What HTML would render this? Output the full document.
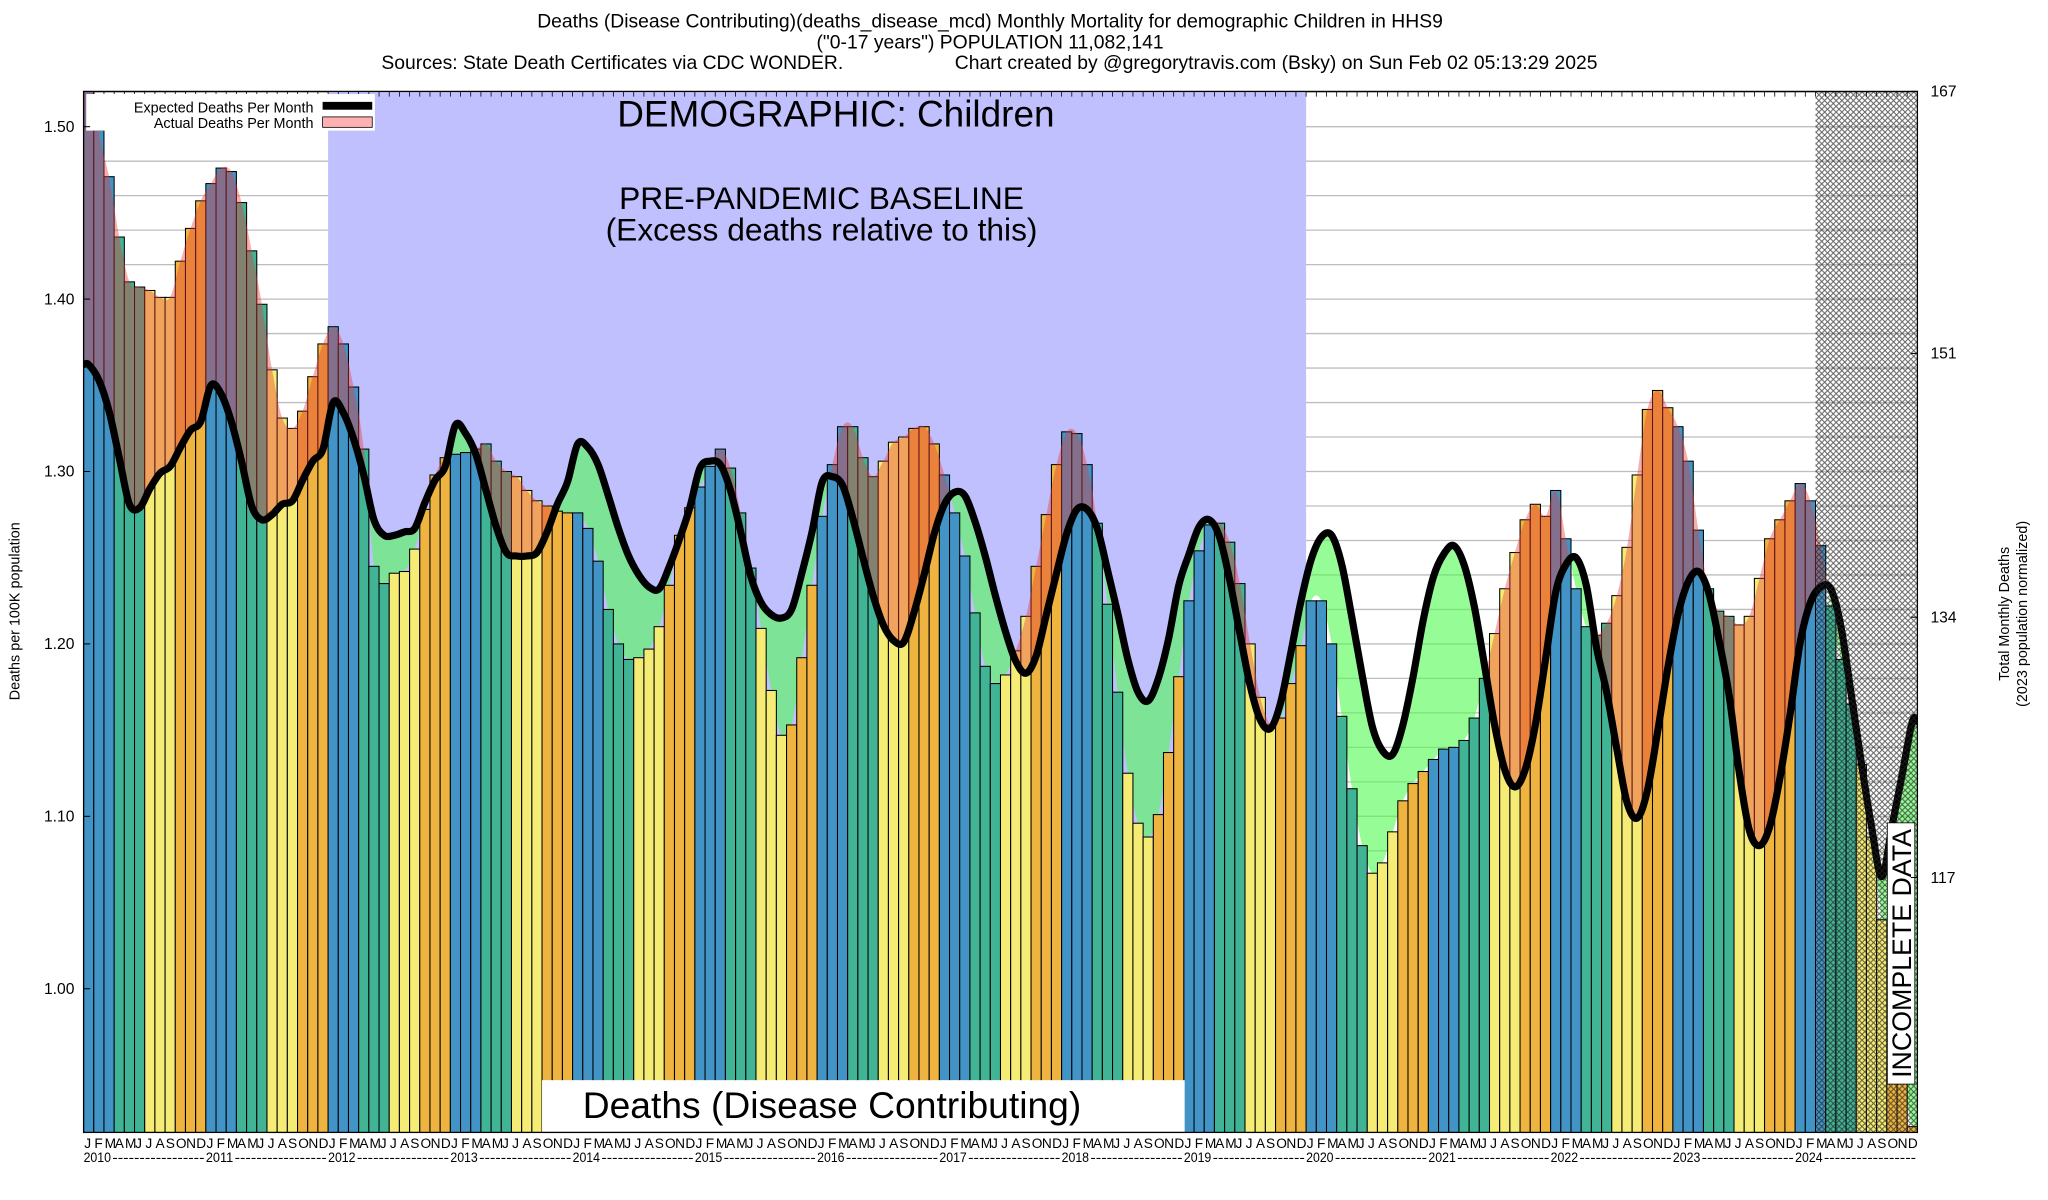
<!DOCTYPE html>
<html><head><meta charset="utf-8"><title>Deaths (Disease Contributing) Monthly Mortality - Children HHS9</title>
<style>html,body{margin:0;padding:0;background:#fff}svg{display:block;font-family:"Liberation Sans",Arial,sans-serif}</style>
</head><body>
<svg id="chart" xmlns="http://www.w3.org/2000/svg" width="2048" height="1200" viewBox="0 0 1568 918.75" preserveAspectRatio="none">
<defs>
<clipPath id="plotClip"><rect x="64" y="70" width="1404" height="797"/></clipPath>
<clipPath id="aboveExp"><path id="aboveExpPath"/></clipPath>
<clipPath id="aboveAct"><path id="aboveActPath"/></clipPath>
<pattern id="hatch" width="4.4" height="4.4" patternUnits="userSpaceOnUse">
<path d="M0,0 L4.4,4.4 M4.4,0 L0,4.4" stroke="#222" stroke-width="0.8" opacity="0.7"/>
</pattern>
</defs>
<rect x="0" y="0" width="1568" height="918.75" fill="#fff"/>
<g font-size="14.8" fill="#000">
<text x="758" y="21" text-anchor="middle">Deaths (Disease Contributing)(deaths_disease_mcd) Monthly Mortality for demographic Children in HHS9</text>
<text x="758" y="37" text-anchor="middle">("0-17 years") POPULATION 11,082,141</text>
<text x="292" y="53">Sources: State Death Certificates via CDC WONDER.</text>
<text x="731" y="53">Chart created by @gregorytravis.com (Bsky) on Sun Feb 02 05:13:29 2025</text>
</g>
<g id="plot" clip-path="url(#plotClip)"></g>
<g id="overlay"></g>
<rect x="64" y="70" width="1404" height="797" fill="none" stroke="#000" stroke-width="1"/>
<g id="axes"></g>
<text transform="translate(15,468) rotate(-90)" text-anchor="middle" font-size="11">Deaths per 100K population</text>
<text transform="translate(1538,470) rotate(-90)" text-anchor="middle" font-size="11">Total Monthly Deaths</text>
<text transform="translate(1552,470) rotate(-90)" text-anchor="middle" font-size="11">(2023 population normalized)</text>
</svg>
<script>
const years = [2010,2011,2012,2013,2014,2015,2016,2017,2018,2019,2020,2021,2022,2023,2024];
const monthLetters = ['J','F','M','A','M','J','J','A','S','O','N','D'];
const actual = [
1.56,1.498,1.471,1.436,1.410,1.407,1.405,1.401,1.401,1.422,1.441,1.457,
1.467,1.476,1.474,1.456,1.428,1.397,1.359,1.331,1.325,1.335,1.355,1.374,
1.384,1.374,1.349,1.313,1.245,1.235,1.241,1.242,1.255,1.278,1.298,1.308,
1.310,1.311,1.313,1.316,1.306,1.300,1.297,1.289,1.283,1.280,1.277,1.276,
1.276,1.267,1.248,1.220,1.200,1.191,1.192,1.197,1.210,1.234,1.263,1.279,
1.291,1.303,1.313,1.302,1.276,1.244,1.209,1.173,1.147,1.153,1.192,1.234,
1.274,1.304,1.326,1.326,1.308,1.297,1.306,1.317,1.320,1.325,1.326,1.316,
1.298,1.276,1.251,1.218,1.187,1.177,1.182,1.196,1.216,1.245,1.275,1.304,
1.323,1.322,1.304,1.270,1.223,1.172,1.125,1.096,1.088,1.101,1.137,1.181,
1.225,1.254,1.269,1.270,1.259,1.235,1.200,1.169,1.153,1.157,1.177,1.199,
1.225,1.225,1.200,1.158,1.116,1.083,1.067,1.073,1.091,1.109,1.119,1.126,
1.133,1.139,1.140,1.144,1.157,1.180,1.206,1.232,1.253,1.272,1.281,1.274,
1.289,1.261,1.232,1.210,1.205,1.212,1.228,1.256,1.298,1.336,1.347,1.337,
1.326,1.306,1.266,1.232,1.219,1.216,1.211,1.216,1.238,1.261,1.272,1.283,
1.293,1.283,1.257,1.222,1.191,1.165,1.130,1.088,1.040,0.955,0.945,0.920];
const expected = [
1.362,1.353,1.335,1.308,1.281,1.279,1.290,1.299,1.303,1.314,1.324,1.329,
1.350,1.345,1.329,1.306,1.280,1.272,1.275,1.281,1.283,1.295,1.306,1.313,
1.340,1.334,1.319,1.298,1.272,1.263,1.263,1.265,1.267,1.282,1.295,1.303,
1.327,1.322,1.310,1.289,1.268,1.253,1.251,1.251,1.253,1.265,1.281,1.294,
1.316,1.314,1.304,1.286,1.267,1.251,1.240,1.233,1.232,1.245,1.261,1.279,
1.302,1.306,1.304,1.289,1.265,1.239,1.224,1.217,1.215,1.220,1.241,1.265,
1.294,1.297,1.292,1.273,1.250,1.228,1.211,1.202,1.201,1.218,1.240,1.264,
1.281,1.288,1.286,1.271,1.251,1.228,1.207,1.190,1.183,1.193,1.217,1.241,
1.264,1.278,1.278,1.267,1.243,1.218,1.191,1.172,1.167,1.180,1.203,1.234,
1.252,1.268,1.272,1.262,1.237,1.206,1.176,1.156,1.151,1.166,1.195,1.225,
1.249,1.262,1.263,1.246,1.215,1.182,1.152,1.138,1.136,1.153,1.181,1.214,
1.239,1.252,1.257,1.246,1.222,1.188,1.153,1.127,1.117,1.127,1.153,1.191,
1.230,1.246,1.250,1.234,1.198,1.172,1.139,1.108,1.099,1.115,1.149,1.186,
1.217,1.236,1.242,1.230,1.203,1.171,1.126,1.092,1.083,1.094,1.122,1.159,
1.201,1.224,1.233,1.232,1.210,1.171,1.131,1.094,1.065,1.094,1.124,1.155];
const yTicks = [1.00,1.10,1.20,1.30,1.40,1.50];
const rightTicks = ['167','151','134','117'];
const rightTickValues = [1.5205,1.3685,1.2155,1.0645];
const incompleteStart = 170;

const NS = 'http://www.w3.org/2000/svg';
const L = 64, R = 1468, T = 70, B = 867, BW = 7.8;
function yS(v){ return 97 + (1.5 - v) * 1320; }
function xL(i){ return L + i * BW; }
function xC(i){ return L + (i + 0.5) * BW; }
function mk(tag, attrs, parent){ const e = document.createElementNS(NS, tag); for (const k in attrs) e.setAttribute(k, attrs[k]); if (parent) parent.appendChild(e); return e; }
function smoothPath(pts){
  let d = 'M' + pts[0][0].toFixed(2) + ',' + pts[0][1].toFixed(2);
  for (let i = 0; i < pts.length - 1; i++){
    const p0 = pts[i-1] || pts[i], p1 = pts[i], p2 = pts[i+1], p3 = pts[i+2] || pts[i+1];
    const c1 = [p1[0] + (p2[0]-p0[0])/6, p1[1] + (p2[1]-p0[1])/6];
    const c2 = [p2[0] - (p3[0]-p1[0])/6, p2[1] - (p3[1]-p1[1])/6];
    d += 'C' + c1[0].toFixed(2)+','+c1[1].toFixed(2)+' '+c2[0].toFixed(2)+','+c2[1].toFixed(2)+' '+p2[0].toFixed(2)+','+p2[1].toFixed(2);
  }
  return d;
}
function curvePts(arr){
  const pts = arr.map((v,i)=>[xC(i), yS(v)]);
  pts.unshift([L, yS(arr[0])]); pts.push([R, yS(arr[arr.length-1])]);
  return pts;
}
const expPts = curvePts(expected), actPts = curvePts(actual);
const expCurve = smoothPath(expPts), actCurve = smoothPath(actPts);
const plot = document.getElementById('plot');

document.getElementById('aboveExpPath').setAttribute('d', expCurve + ` L${R},${T-60} L${L},${T-60} Z`);
document.getElementById('aboveActPath').setAttribute('d', actCurve + ` L${R},${T-60} L${L},${T-60} Z`);

const grid = mk('g', {}, plot);


for (let k = 0; k <= 30; k++){
  const v = 0.92 + k * 0.02;
  const gl = mk('line', {x1:L, x2:R, y1:yS(v), y2:yS(v), stroke:'#bdbdbd', 'stroke-width':1}, grid);
  
  
}
const base = mk('rect', {x:xL(24), y:T, width:xL(120)-xL(24), height:B-T, fill:'#c0c0ff'}, plot);



const gWrap = mk('g', {'clip-path':'url(#aboveAct)'}, plot);
const gFill = mk('path', {d: expCurve + ` L${R},${B} L${L},${B} Z`, fill:'rgb(80,250,80)', 'fill-opacity':0.6}, gWrap);



const colors = ['#4394c6','#4394c6','#4394c6','#41b496','#41b496','#41b496','#f5ec75','#f5ec75','#f5ec75','#eeb43f','#eeb43f','#eeb43f'];
const bars = mk('g', {}, plot);


actual.forEach((v,i)=>{
  const y = yS(v);
  const r = mk('rect', {x:xL(i), y:y, width:BW, height:Math.max(0, B - y + 2), fill:colors[i%12], stroke:'#000', 'stroke-width':0.8}, bars);
  
  
});

const rWrap = mk('g', {'clip-path':'url(#aboveExp)'}, plot);
const rFill = mk('path', {d: actCurve + ` L${R},${B} L${L},${B} Z`, fill:'rgb(230,54,55)', 'fill-opacity':0.4}, rWrap);



const eLine = mk('path', {d: expCurve, fill:'none', stroke:'#000', 'stroke-width':5.5, 'stroke-linejoin':'round', 'stroke-linecap':'round'}, plot);



const hx = xL(incompleteStart);
const hatch = mk('rect', {x:hx, y:T, width:R-hx, height:B-T, fill:'url(#hatch)'}, plot);



const tticks = mk('g', {}, plot);


for (let i = 1; i < 180; i++) mk('line', {x1:xL(i), x2:xL(i), y1:T, y2:T+4, stroke:'#000', 'stroke-width':0.6}, tticks);

const ov = document.getElementById('overlay');
const lg = mk('g', {}, ov);


mk('rect', {x:66, y:72, width:221, height:28, fill:'#fff'}, lg);
const le1 = mk('text', {x:240, y:86, 'font-size':11, 'text-anchor':'end'}, lg);
le1.textContent = 'Expected Deaths Per Month';


const le2 = mk('text', {x:240, y:98, 'font-size':11, 'text-anchor':'end'}, lg);
le2.textContent = 'Actual Deaths Per Month';


const sw1 = mk('rect', {x:247, y:78, width:38, height:6, fill:'#000'}, lg);


const sw2 = mk('rect', {x:247, y:89.5, width:38, height:8, fill:'#ffb0b0', stroke:'#000', 'stroke-width':0.6}, lg);



function addText(parent, attrs, txt, name){
  const t = mk('text', attrs, parent); t.textContent = txt;
  
  
  return t;
}
addText(ov, {x:640, y:97, 'font-size':28.3, 'text-anchor':'middle'}, 'DEMOGRAPHIC: Children', 'demographic-label');
addText(ov, {x:629, y:160, 'font-size':24.3, 'text-anchor':'middle'}, 'PRE-PANDEMIC BASELINE', 'baseline-label');
addText(ov, {x:629, y:184, 'font-size':24.3, 'text-anchor':'middle'}, '(Excess deaths relative to this)', 'baseline-sublabel');
const mb = mk('rect', {x:415, y:827, width:492, height:40, fill:'#fff'}, ov);


addText(ov, {x:637, y:856, 'font-size':28.5, 'text-anchor':'middle'}, 'Deaths (Disease Contributing)', 'metric-label');
const ib = mk('rect', {x:1445, y:630, width:21, height:200, fill:'#fff', stroke:'#000', 'stroke-width':0.6}, ov);


addText(ov, {transform:'translate(1463,730) rotate(-90)', 'font-size':20.5, 'text-anchor':'middle'}, 'INCOMPLETE DATA', 'incomplete-data-label');

const ax = document.getElementById('axes');
yTicks.forEach(v=>{
  addText(ax, {x:57, y:yS(v)+4, 'font-size':12, 'text-anchor':'end'}, v.toFixed(2), 'y-tick-label');
  mk('line', {x1:L, x2:L+5, y1:yS(v), y2:yS(v), stroke:'#000', 'stroke-width':0.8}, ax);
});
rightTicks.forEach((lab,k)=>{
  addText(ax, {x:1478, y:yS(rightTickValues[k])+4, 'font-size':12}, lab, 'right-tick-label');
  mk('line', {x1:R-5, x2:R, y1:yS(rightTickValues[k]), y2:yS(rightTickValues[k]), stroke:'#000', 'stroke-width':0.8}, ax);
});
for (let i = 0; i < 180; i++){
  addText(ax, {x:xL(i)+0.5, y:879, 'font-size':10.5}, monthLetters[i%12], 'x-month-label');
}
years.forEach((yr,k)=>{
  const x0 = xL(k*12);
  addText(ax, {x:x0, y:889.5, 'font-size':10.5, textLength:21, lengthAdjust:'spacingAndGlyphs'}, String(yr), 'x-year-label');
  addText(ax, {x:x0+22, y:889.5, 'font-size':10.5, textLength:BW*12-23, lengthAdjust:'spacingAndGlyphs'}, '-----------------', 'x-year-dashes');
});
</script>
</body></html>
